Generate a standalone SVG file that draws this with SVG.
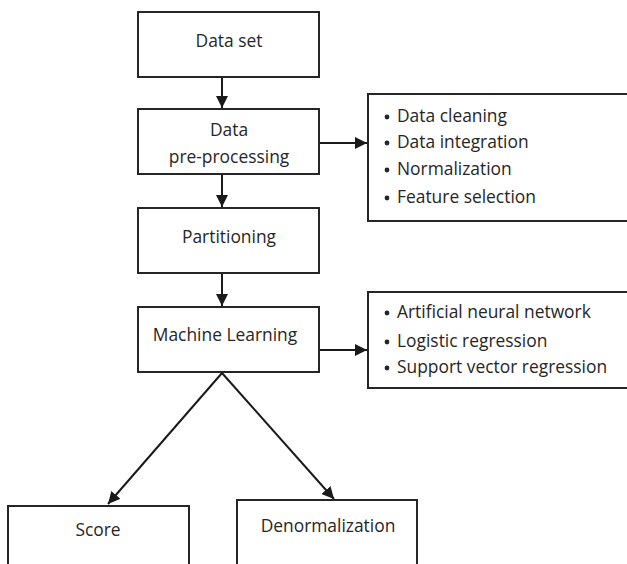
<svg xmlns="http://www.w3.org/2000/svg" width="627" height="564" viewBox="0 0 627 564">
<style>
.box{fill:#fff;stroke:#262626;stroke-width:2}
.t{font-family:"Open Sans","Noto Sans",sans-serif;font-size:17.4px;fill:#262626}
.c{text-anchor:middle}
.ln{stroke:#1a1a1a;stroke-width:2;fill:none}
.b{fill:#262626}
</style>
<defs>
<marker id="ah" viewBox="0 0 10 10" refX="10" refY="5" markerWidth="6" markerHeight="6" orient="auto" markerUnits="strokeWidth">
<path d="M0,0 L10,5 L0,10 z" fill="#1a1a1a"/>
</marker>
</defs>
<rect width="627" height="564" fill="#fff"/>
<g id="connectors">
<line class="ln" x1="222" y1="77" x2="222" y2="108" marker-end="url(#ah)"/>
<line class="ln" x1="222" y1="174" x2="222" y2="207" marker-end="url(#ah)"/>
<line class="ln" x1="319" y1="143" x2="367" y2="143" marker-end="url(#ah)"/>
<line class="ln" x1="222" y1="273" x2="222" y2="306" marker-end="url(#ah)"/>
<line class="ln" x1="319" y1="350" x2="367" y2="350" marker-end="url(#ah)"/>
<line class="ln" x1="222" y1="373" x2="108" y2="504" marker-end="url(#ah)"/>
<line class="ln" x1="222" y1="373" x2="334" y2="499" marker-end="url(#ah)"/>
</g>
<g id="dataset">
<rect class="box" x="138" y="12" width="181" height="65"/>
<text class="t c" x="229" y="47">Data set</text>
</g>
<g id="preprocessing">
<rect class="box" x="138" y="109" width="181" height="65"/>
<text class="t c" x="229" y="136">Data</text>
<text class="t c" x="229" y="163">pre-processing</text>
</g>
<g id="preprocessing-steps">
<rect class="box" x="368" y="94" width="270" height="127"/>
<circle class="b" cx="387" cy="117" r="2.4"/>
<text class="t" x="397" y="122">Data cleaning</text>
<circle class="b" cx="387" cy="143" r="2.4"/>
<text class="t" x="397" y="148">Data integration</text>
<circle class="b" cx="387" cy="170" r="2.4"/>
<text class="t" x="397" y="175">Normalization</text>
<circle class="b" cx="387" cy="198" r="2.4"/>
<text class="t" x="397" y="203">Feature selection</text>
</g>
<g id="partitioning">
<rect class="box" x="138" y="208" width="181" height="65"/>
<text class="t c" x="229" y="243">Partitioning</text>
</g>
<g id="ml">
<rect class="box" x="138" y="307" width="181" height="65"/>
<text class="t c" x="225" y="341">Machine Learning</text>
</g>
<g id="ml-methods">
<rect class="box" x="368" y="292" width="270" height="96"/>
<circle class="b" cx="387" cy="313" r="2.4"/>
<text class="t" x="397" y="318">Artificial neural network</text>
<circle class="b" cx="387" cy="342" r="2.4"/>
<text class="t" x="397" y="347">Logistic regression</text>
<circle class="b" cx="387" cy="368" r="2.4"/>
<text class="t" x="397" y="373">Support vector regression</text>
</g>
<g id="score">
<rect class="box" x="8" y="506" width="181" height="80"/>
<text class="t c" x="98" y="536">Score</text>
</g>
<g id="denormalization">
<rect class="box" x="237" y="500" width="180" height="86"/>
<text class="t c" x="328" y="532">Denormalization</text>
</g>
</svg>
